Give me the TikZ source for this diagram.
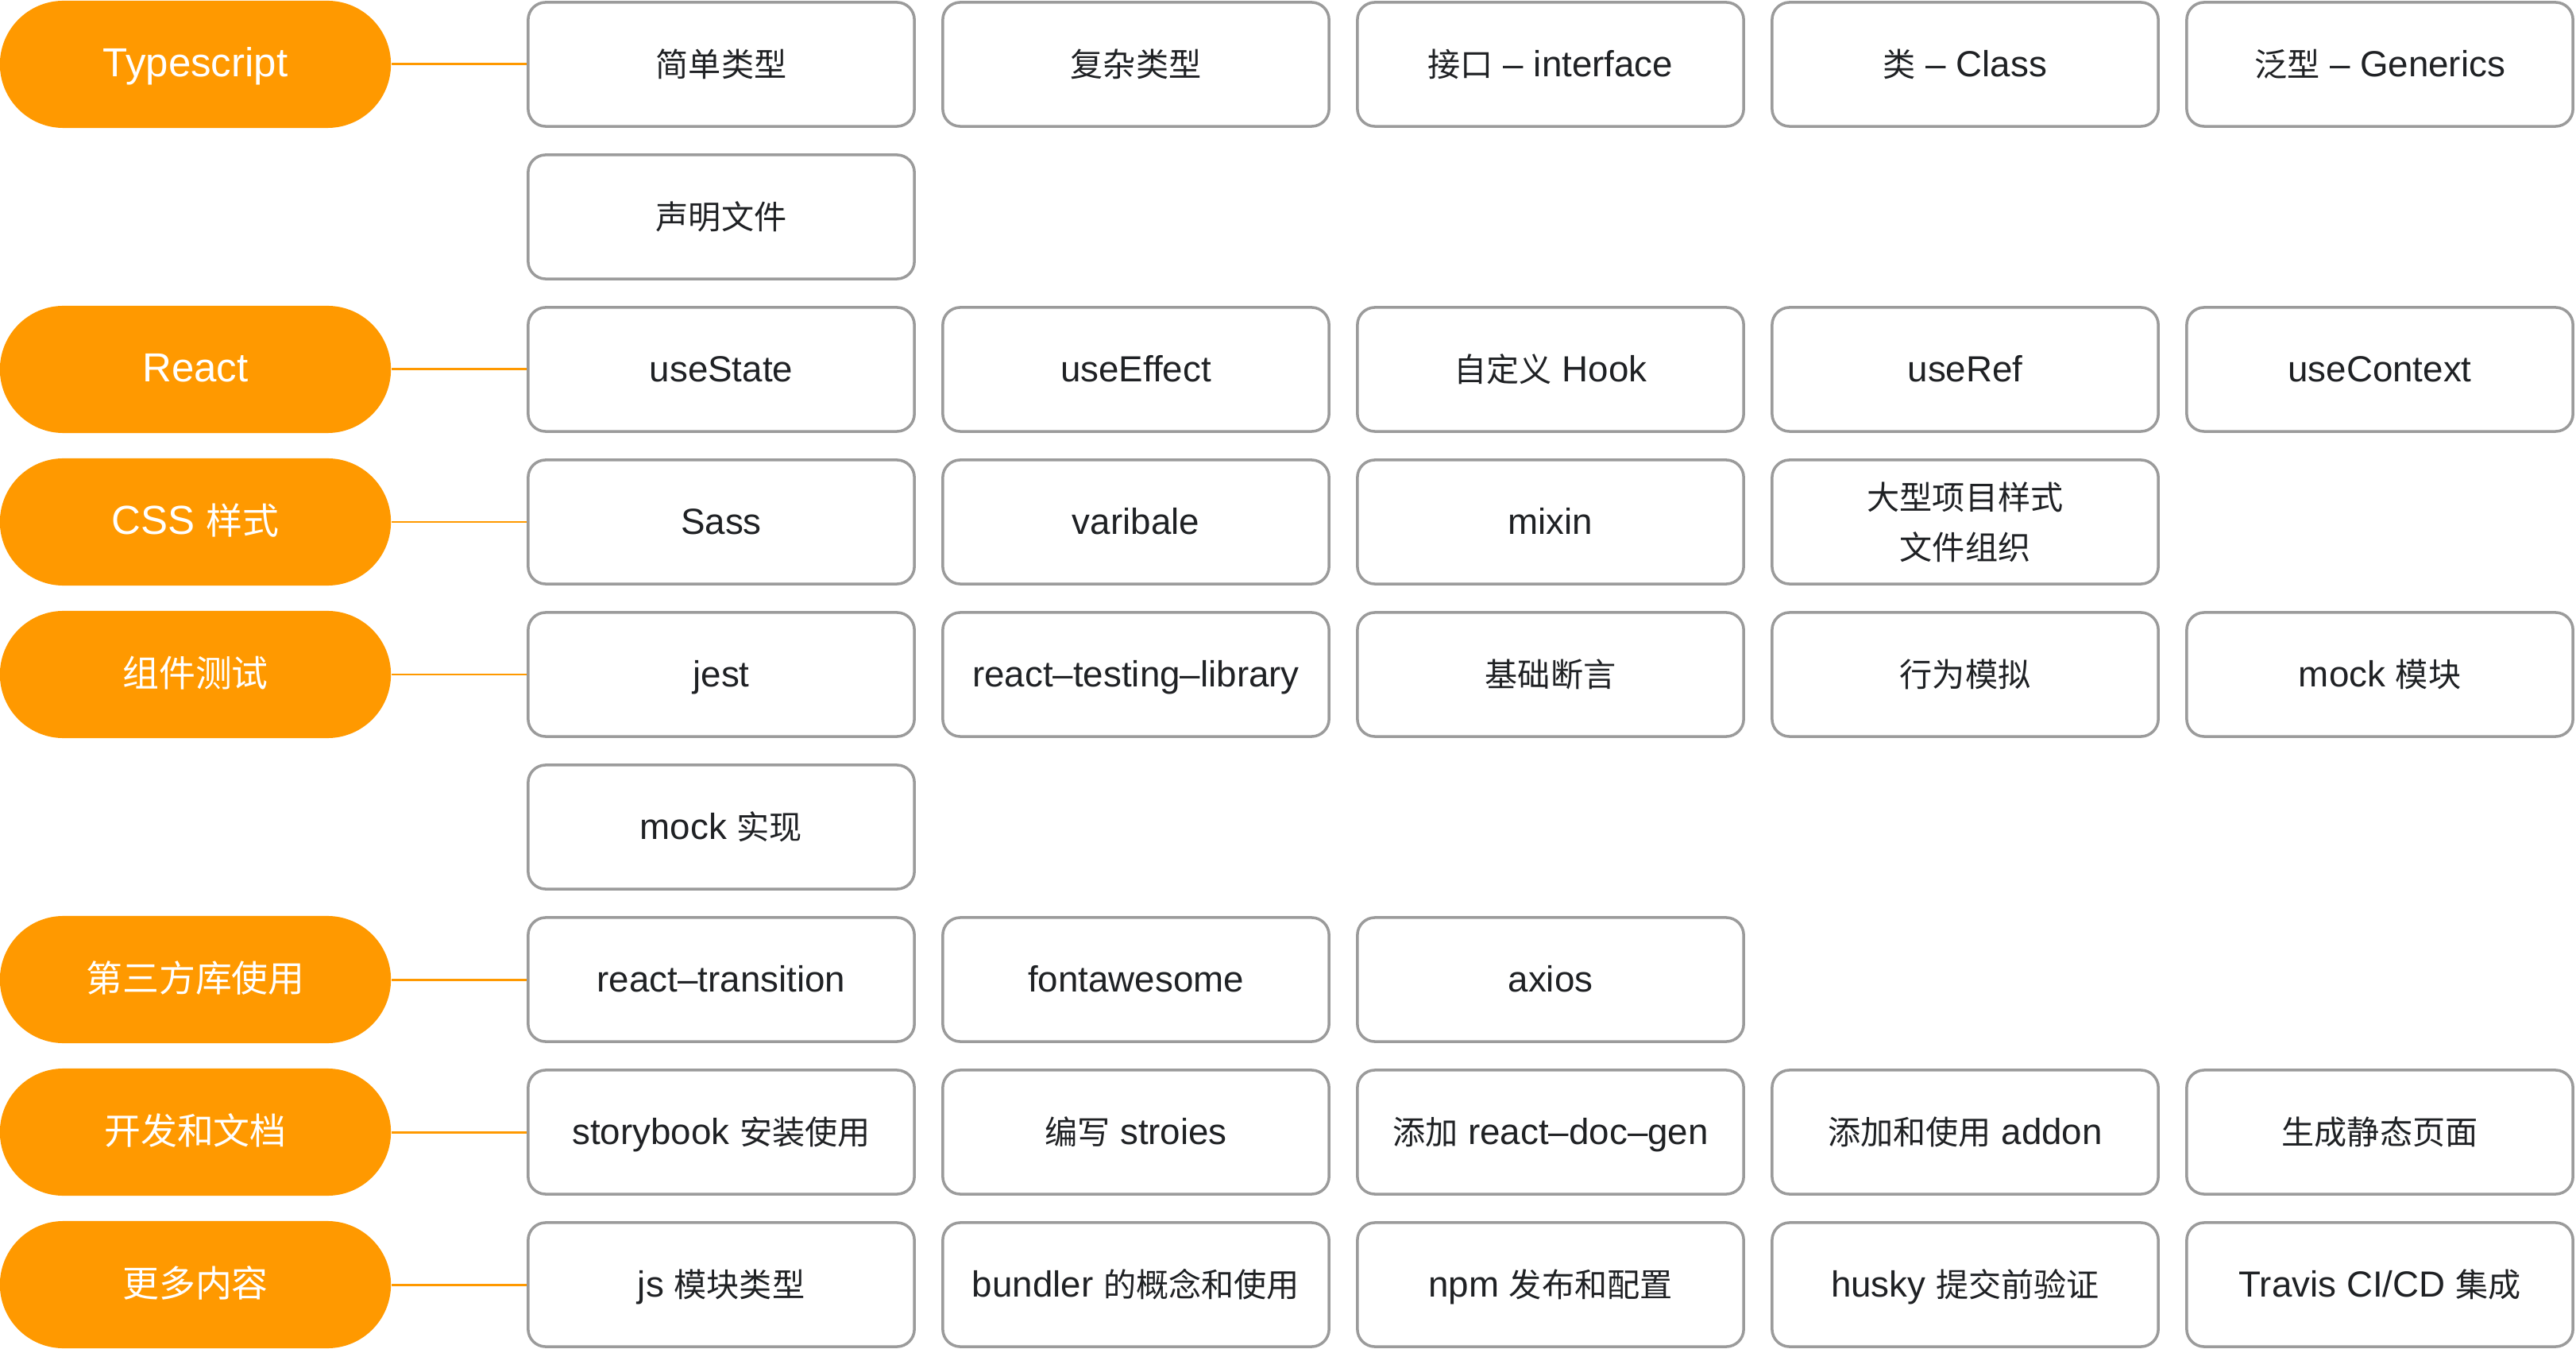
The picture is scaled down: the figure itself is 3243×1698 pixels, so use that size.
\documentclass[tikz,border=0pt]{standalone}
\usepackage{fontspec}
\setmainfont{Liberation Sans}
\newfontfamily\cjkfont{Noto Sans CJK SC}[Scale=0.9]
\newcommand{\zh}[1]{{\cjkfont #1}}
\usetikzlibrary{shapes.misc}
\definecolor{topicorange}{HTML}{FF9900}
\definecolor{boxgray}{HTML}{9B9B9B}
\definecolor{textdark}{HTML}{1F2124}

\begin{document}
\begin{tikzpicture}[x=0.01cm, y=-0.01cm,
	topic/.style={rounded rectangle, fill=topicorange, text=white,
		font=\fontsize{14.5pt}{18pt}\selectfont, text height=.92em, text depth=.04em,
		minimum width=4.92cm, minimum height=1.6cm, inner sep=0pt},
	itembox/.style={draw=boxgray, line width=1pt, rounded corners=0.22cm, fill=white,
		text=textdark, align=center, font=\fontsize{13pt}{18pt}\selectfont,
		minimum width=4.86cm, minimum height=1.56cm, inner sep=0pt},
	item/.style={itembox, text height=.92em, text depth=.04em},
	link/.style={draw=topicorange, line width=0.85pt}]
	\useasboundingbox (0,0) rectangle (3243,1698);
	
	% ================= 1. Typescript =================
	\node[topic] (ts) at (246,81) {Typescript};
	\node[item] (ts1) at (908,81)  {\zh{简单类型}};
	\node[item] (ts2) at (1430,81) {\zh{复杂类型}};
	\node[item] (ts3) at (1952,81) {\zh{接口} – interface};
	\node[item] (ts4) at (2474,81) {\zh{类} – Class};
	\node[item] (ts5) at (2996,81) {\zh{泛型} – Generics};
	\node[item] (ts6) at (908,273) {\zh{声明文件}};
	\draw[link] (ts.east) -- (ts1.west);
	
	% ================= 2. React =================
	\node[topic] (react) at (246,465) {React};
	\node[item] (react1) at (908,465)  {useState};
	\node[item] (react2) at (1430,465) {useEffect};
	\node[item] (react3) at (1952,465) {\zh{自定义} Hook};
	\node[item] (react4) at (2474,465) {useRef};
	\node[item] (react5) at (2996,465) {useContext};
	\draw[link] (react.east) -- (react1.west);
	
	% ================= 3. CSS 样式 =================
	\node[topic] (css) at (246,657) {CSS \zh{样式}};
	\node[item] (css1) at (908,657)  {Sass};
	\node[item] (css2) at (1430,657) {varibale};
	\node[item] (css3) at (1952,657) {mixin};
	\node[itembox] (css4) at (2474,657) {\zh{大型项目样式}\\\zh{文件组织}};
	\draw[link] (css.east) -- (css1.west);
	
	% ================= 4. 组件测试 =================
	\node[topic] (test) at (246,849) {\zh{组件测试}};
	\node[item] (test1) at (908,849)  {jest};
	\node[item] (test2) at (1430,849) {react–testing–library};
	\node[item] (test3) at (1952,849) {\zh{基础断言}};
	\node[item] (test4) at (2474,849) {\zh{行为模拟}};
	\node[item] (test5) at (2996,849) {mock \zh{模块}};
	\node[item] (test6) at (908,1041) {mock \zh{实现}};
	\draw[link] (test.east) -- (test1.west);
	
	% ================= 5. 第三方库使用 =================
	\node[topic] (lib) at (246,1233) {\zh{第三方库使用}};
	\node[item] (lib1) at (908,1233)  {react–transition};
	\node[item] (lib2) at (1430,1233) {fontawesome};
	\node[item] (lib3) at (1952,1233) {axios};
	\draw[link] (lib.east) -- (lib1.west);
	
	% ================= 6. 开发和文档 =================
	\node[topic] (doc) at (246,1425) {\zh{开发和文档}};
	\node[item] (doc1) at (908,1425)  {storybook \zh{安装使用}};
	\node[item] (doc2) at (1430,1425) {\zh{编写} stroies};
	\node[item] (doc3) at (1952,1425) {\zh{添加} react–doc–gen};
	\node[item] (doc4) at (2474,1425) {\zh{添加和使用} addon};
	\node[item] (doc5) at (2996,1425) {\zh{生成静态页面}};
	\draw[link] (doc.east) -- (doc1.west);
	
	% ================= 7. 更多内容 =================
	\node[topic] (more) at (246,1617) {\zh{更多内容}};
	\node[item] (more1) at (908,1617)  {js \zh{模块类型}};
	\node[item] (more2) at (1430,1617) {bundler \zh{的概念和使用}};
	\node[item] (more3) at (1952,1617) {npm \zh{发布和配置}};
	\node[item] (more4) at (2474,1617) {husky \zh{提交前验证}};
	\node[item] (more5) at (2996,1617) {Travis CI/CD \zh{集成}};
	\draw[link] (more.east) -- (more1.west);
\end{tikzpicture}
\end{document}
